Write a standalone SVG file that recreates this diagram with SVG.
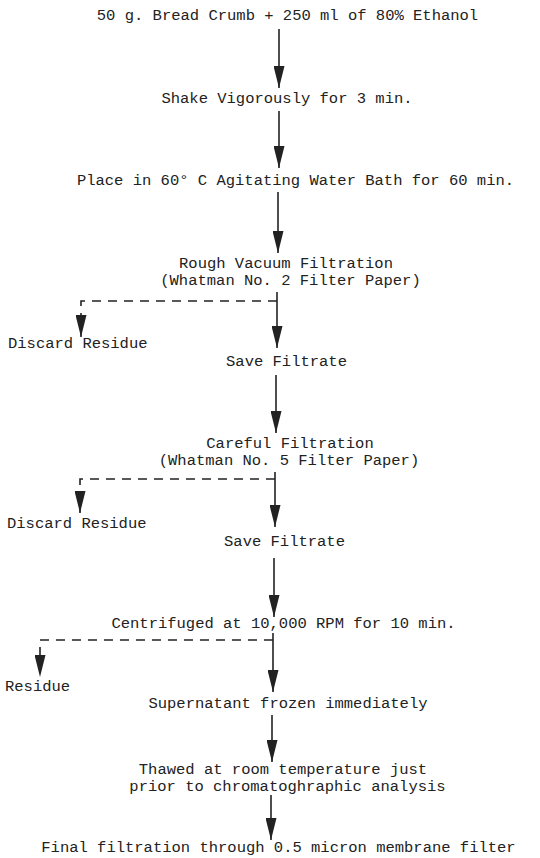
<svg xmlns="http://www.w3.org/2000/svg" width="540" height="858" viewBox="0 0 540 858">
<style>
text{font-family:"Liberation Mono","DejaVu Sans Mono",monospace;font-size:15.5px;fill:#222;}
.c{text-anchor:middle;}
.s{text-anchor:start;}
.ln{stroke:#222;stroke-width:1.6;fill:none;}
.d{stroke:#222;stroke-width:1.6;fill:none;stroke-dasharray:9 7;}
.ah{fill:#222;stroke:none;}
</style>
<defs>
<marker id="arr" viewBox="0 0 22 11" refX="22" refY="5.5" markerWidth="22" markerHeight="11" orient="auto" markerUnits="userSpaceOnUse">
<path class="ah" d="M0,0 L22,5.5 L0,11 z"/>
</marker>
</defs>
<rect width="540" height="858" fill="#fff"/>
<g id="n1"><text class="c" x="287.5" y="20">50 g. Bread Crumb + 250 ml of 80% Ethanol</text></g>
<g id="n2"><text class="c" x="287" y="103">Shake Vigorously for 3 min.</text></g>
<g id="n3"><text class="c" x="295.5" y="185">Place in 60° C Agitating Water Bath for 60 min.</text></g>
<g id="n4"><text class="c" x="286" y="268">Rough Vacuum Filtration</text><text class="c" x="290.5" y="285">(Whatman No. 2 Filter Paper)</text></g>
<g id="n5"><text class="s" x="8" y="348">Discard Residue</text></g>
<g id="n6"><text class="c" x="286.5" y="366">Save Filtrate</text></g>
<g id="n7"><text class="c" x="290" y="448">Careful Filtration</text><text class="c" x="289" y="465">(Whatman No. 5 Filter Paper)</text></g>
<g id="n8"><text class="s" x="7" y="528">Discard Residue</text></g>
<g id="n9"><text class="c" x="284.5" y="546">Save Filtrate</text></g>
<g id="n10"><text class="c" x="283.5" y="628">Centrifuged at 10,000 RPM for 10 min.</text></g>
<g id="n11"><text class="s" x="5" y="691">Residue</text></g>
<g id="n12"><text class="c" x="288" y="708">Supernatant frozen immediately</text></g>
<g id="n13"><text class="c" x="283" y="774">Thawed at room temperature just</text><text class="c" x="287.5" y="791">prior to chromatoghraphic analysis</text></g>
<g id="n14"><text class="c" x="278.5" y="852">Final filtration through 0.5 micron membrane filter</text></g>
<g id="connectors">
<line class="ln" x1="279" y1="29" x2="279" y2="88" marker-end="url(#arr)"/>
<line class="ln" x1="279" y1="111" x2="279" y2="168" marker-end="url(#arr)"/>
<line class="ln" x1="278" y1="192" x2="278" y2="253" marker-end="url(#arr)"/>
<line class="ln" x1="277" y1="292" x2="277" y2="348" marker-end="url(#arr)"/>
<path class="d" d="M277,301 H81 V337" marker-end="url(#arr)"/>
<line class="ln" x1="276" y1="375" x2="276" y2="433" marker-end="url(#arr)"/>
<line class="ln" x1="275" y1="472" x2="275" y2="527" marker-end="url(#arr)"/>
<path class="d" d="M275,479 H80 V513" marker-end="url(#arr)"/>
<line class="ln" x1="274" y1="558" x2="274" y2="617" marker-end="url(#arr)"/>
<line class="ln" x1="273" y1="633" x2="273" y2="692" marker-end="url(#arr)"/>
<path class="d" d="M273,640 H40 V677" marker-end="url(#arr)"/>
<line class="ln" x1="272" y1="715" x2="272" y2="762" marker-end="url(#arr)"/>
<line class="ln" x1="271" y1="795" x2="271" y2="840" marker-end="url(#arr)"/>
</g>
</svg>
